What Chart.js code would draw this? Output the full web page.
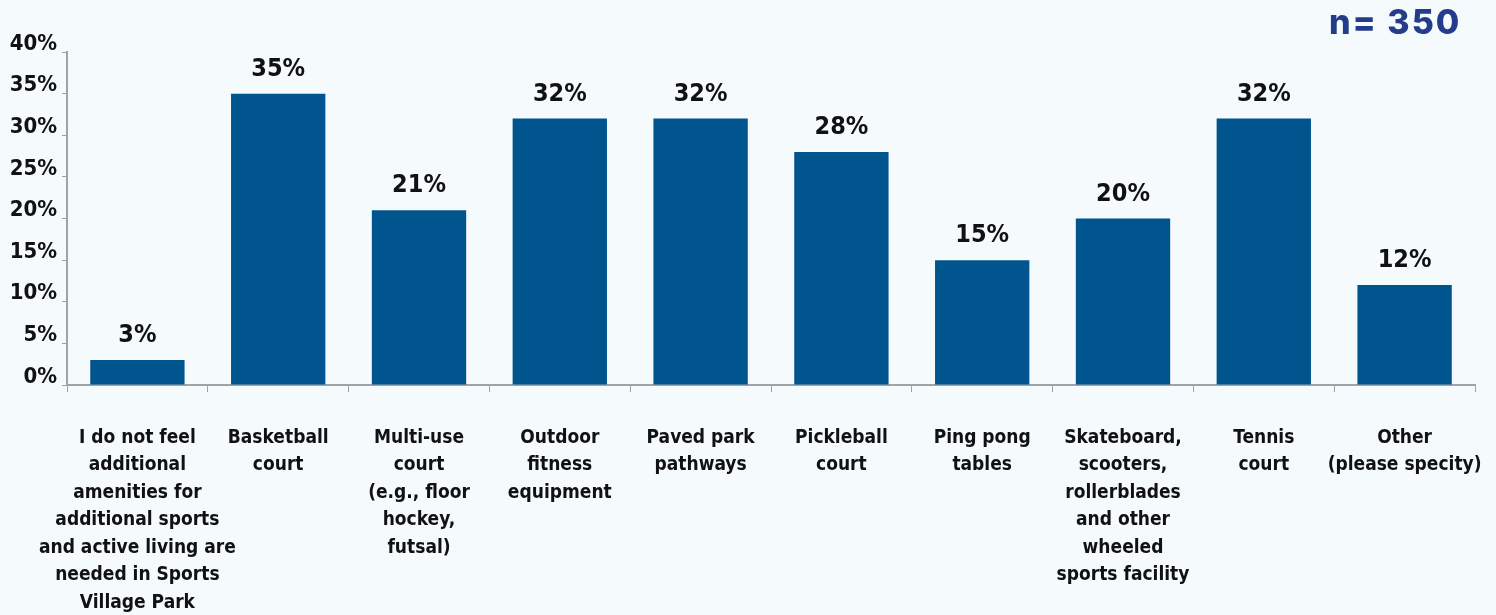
<!DOCTYPE html>
<html>
<head>
<meta charset="utf-8">
<script src="https://cdn.jsdelivr.net/npm/chart.js@4.4.1/dist/chart.umd.min.js"></script>
<style>
  html, body { margin: 0; padding: 0; background: #f5fbfc; }
  #wrap { position: relative; width: 1496px; height: 615px; }
  #n { position: absolute; left: 1329px; top: 1px; font-family: "Inter", "Noto Sans", sans-serif; font-weight: 800;
       font-size: 34px; color: #233d8c; letter-spacing: 2px; }
</style>
</head>
<body>
<div id="wrap">
  <canvas id="chart" width="1496" height="615"></canvas>
  <div id="n">n= 350</div>
</div>
<script>
// Catégories (une ligne par entrée du tableau)
const categories = [
  ["I do not feel", "additional", "amenities for", "additional sports", "and active living are", "needed in Sports", "Village Park"],
  ["Basketball", "court"],
  ["Multi-use", "court", "(e.g., floor", "hockey,", "futsal)"],
  ["Outdoor", "fitness", "equipment"],
  ["Paved park", "pathways"],
  ["Pickleball", "court"],
  ["Ping pong", "tables"],
  ["Skateboard,", "scooters,", "rollerblades", "and other", "wheeled", "sports facility"],
  ["Tennis", "court"],
  ["Other", "(please specity)"]
];
const percents = [3, 35, 21, 32, 32, 28, 15, 20, 32, 12];
const yTicks = [0, 5, 10, 15, 20, 25, 30, 35, 40];

const fontFamily = '"Liberation Sans Narrow", "DejaVu Sans Condensed", "Arial Narrow", sans-serif';

// Valeurs au-dessus des barres
const valueLabels = {
  id: 'valueLabels',
  afterDatasetsDraw(chart) {
    const ctx = chart.ctx;
    const meta = chart.getDatasetMeta(0);
    ctx.save();
    ctx.font = 'bold 25px ' + fontFamily;
    ctx.fillStyle = '#111';
    ctx.textAlign = 'center';
    ctx.textBaseline = 'alphabetic';
    meta.data.forEach(function(bar, i) {
      ctx.fillText(percents[i] + '%', bar.x, bar.y - 18);
    });
    ctx.restore();
  }
};

new Chart(document.getElementById('chart'), {
  type: 'bar',
  data: {
    labels: categories,
    datasets: [{
      data: percents,
      backgroundColor: '#00558f',
      categoryPercentage: 1,
      barPercentage: 0.67
    }]
  },
  options: {
    responsive: false,
    animation: false,
    layout: { padding: { top: 52, right: 21, left: 0, bottom: 0 } },
    plugins: {
      legend: { display: false },
      tooltip: { enabled: false }
    },
    scales: {
      x: {
        grid: { offset: true, drawOnChartArea: false, tickLength: 7, color: '#a0a4a8' },
        border: { color: '#a0a4a8', width: 2 },
        ticks: {
          color: '#111',
          maxRotation: 0,
          autoSkip: false,
          padding: 32,
          font: { family: fontFamily, size: 19, weight: 'bold', lineHeight: 1.45 }
        },
        afterFit(scale) {
          scale.height = 230;
          scale.paddingLeft = 0;
          scale.paddingRight = 0;
        }
      },
      y: {
        min: 0,
        max: 40,
        afterBuildTicks(scale) { scale.ticks = yTicks.map(v => ({ value: v })); },
        grid: { drawOnChartArea: false, tickLength: 5, color: '#a0a4a8' },
        border: { color: '#a0a4a8', width: 2 },
        ticks: {
          color: '#111',
          padding: 5,
          labelOffset: -8,
          font: { family: fontFamily, size: 22, weight: 'bold' },
          callback: v => v + '%'
        },
        afterFit(scale) {
          scale.width = 67;
          scale.paddingTop = 0;
          scale.paddingBottom = 0;
        }
      }
    }
  },
  plugins: [valueLabels]
});
</script>
</body>
</html>
